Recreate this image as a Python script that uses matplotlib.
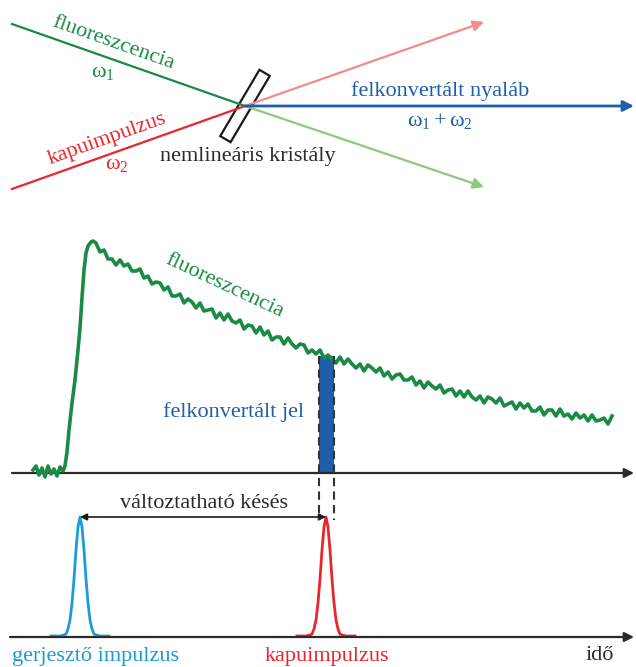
import numpy as np
import matplotlib.pyplot as plt
from matplotlib.patches import Rectangle

# colours
GREEN = '#1a8a45'
GREEN_LIGHT = '#8cca7c'
RED = '#e8262d'
RED_LIGHT = '#f08c8c'
BLUE = '#1f5eab'
CYAN = '#1b9bd7'
DARK = '#2b2b2b'

plt.rcParams['font.family'] = ['Liberation Serif', 'DejaVu Serif']
plt.rcParams['mathtext.fontset'] = 'custom'
plt.rcParams['mathtext.rm'] = 'Liberation Serif'
plt.rcParams['mathtext.it'] = 'Liberation Serif:italic'

FS = 16

# --- beam geometry (drawing units = pixels, y pointing down) ---
crystal_xy = (245, 106)
crystal_len, crystal_thick, crystal_angle = 77, 12, -59.4
fluor_in = (12, 24)
gate_in = (12, 189)
gate_out = (484, 22)
fluor_out = (484, 187)
sum_out = (634, 106)

# --- fluorescence trace: time (x) and signal level (y) ---
fluor_t = [33, 36, 39, 42, 45, 48, 51, 54, 57, 60, 63, 65, 67, 69, 72, 75, 78, 80, 82,
           84, 86, 88, 91, 93,
           96, 100, 104, 108, 112, 116, 120, 124, 128, 132, 136, 140, 144, 148, 152,
           156, 160, 164, 168, 172, 176, 180, 184, 188, 192, 196, 200, 204, 208, 212,
           216, 220, 224, 228, 232, 236, 240, 244, 248, 252, 256, 260, 264, 268, 272,
           276, 280, 284, 288, 292, 296, 300, 304, 308, 312, 316, 320, 324, 328, 332,
           336, 340, 344, 348, 352, 356, 360, 364, 368, 372, 376, 380, 384, 388, 392,
           396, 400, 404, 408, 412, 416, 420, 424, 428, 432, 436, 440, 444, 448, 452,
           456, 460, 464, 468, 472, 476, 480, 484, 488, 492, 496, 500, 504, 508, 512,
           516, 520, 524, 528, 532, 536, 540, 544, 548, 552, 556, 560, 564, 568, 572,
           576, 580, 584, 588, 592, 596, 600, 604, 608, 612]
fluor_y = [470, 466, 475, 468, 477, 466, 474, 469, 476, 467, 471, 466, 452, 430, 403,
           380, 350, 328, 298, 270, 253, 246, 242, 241,
           243, 252, 250, 259, 259, 265, 260, 266, 264, 271, 271, 269, 278, 276, 284,
           282, 283, 290, 287, 296, 296, 294, 303, 299, 302, 308, 303, 311, 310, 309,
           318, 313, 320, 314, 321, 323, 320, 329, 325, 326, 333, 327, 335, 331, 340,
           337, 337, 344, 338, 344, 348, 344, 345, 353, 350, 354, 350, 358, 355, 359,
           363, 357, 364, 359, 364, 368, 364, 371, 365, 368, 372, 368, 376, 372, 379,
           375, 374, 380, 380, 377, 385, 381, 388, 382, 386, 389, 385, 393, 390, 389,
           396, 391, 397, 391, 397, 400, 396, 403, 397, 399, 403, 398, 406, 404, 402,
           409, 403, 408, 404, 411, 411, 407, 415, 410, 410, 416, 409, 416, 414, 419,
           413, 418, 415, 421, 415, 421, 420, 418, 424, 416]

fluor_axis_y = 473
pulse_axis_y = 637
axis_x0, axis_x1 = 12, 634

# gate window on the time axis
gate_t0, gate_t1 = 319, 334

# laser pulse shape: time offset from the peak and height above the axis
pulse_dt = [-29, -20, -16, -14, -12, -10, -8, -6, -4, -2, 0,
            2, 4, 6, 8, 10, 12, 14, 16, 20, 29]
pulse_h = [0, 0, 1, 2, 7, 16, 33, 57, 86, 109, 119,
           109, 86, 57, 33, 16, 7, 2, 1, 0, 0]
excite_t = 80
gate_t = 326

fig = plt.figure(figsize=(6.36, 6.67), dpi=100)
ax = fig.add_axes([0, 0, 1, 1])
ax.set_xlim(0, 636)
ax.set_ylim(667, 0)
ax.axis('off')


def arrow(p0, p1, color, lw=1.6, scale=16, style='-|>'):
    ax.annotate('', xy=p1, xytext=p0,
                arrowprops=dict(arrowstyle=style, color=color, lw=lw,
                                mutation_scale=scale, shrinkA=0, shrinkB=0))


# ---------------- beams through the crystal ----------------
arrow(crystal_xy, gate_out, RED_LIGHT)
arrow(crystal_xy, fluor_out, GREEN_LIGHT)
arrow(crystal_xy, sum_out, BLUE, lw=2.0)
ax.plot([fluor_in[0], crystal_xy[0]], [fluor_in[1], crystal_xy[1]], color=GREEN, lw=1.6)
ax.plot([gate_in[0], crystal_xy[0]], [gate_in[1], crystal_xy[1]], color=RED, lw=1.6)

ax.add_patch(Rectangle((crystal_xy[0] - crystal_len / 2, crystal_xy[1] - crystal_thick / 2),
                       crystal_len, crystal_thick, angle=crystal_angle,
                       rotation_point='center', fill=False, ec='#1a1a1a', lw=1.6))

ax.text(113, 43, 'fluoreszcencia', color=GREEN, fontsize=FS, rotation=-19.5,
        ha='center', va='center')
ax.text(103, 72, r'$\mathrm{\omega}_1$', color=GREEN, fontsize=FS, ha='center', va='center')
ax.text(107, 139, 'kapuimpulzus', color=RED, fontsize=FS, rotation=19.6,
        ha='center', va='center')
ax.text(117, 165, r'$\mathrm{\omega}_2$', color=RED, fontsize=FS, ha='center', va='center')
ax.text(248, 157, 'nemlineáris kristály', color=DARK, fontsize=FS,
        ha='center', va='center')
ax.text(440, 91, 'felkonvertált nyaláb', color=BLUE, fontsize=FS,
        ha='center', va='center')
ax.text(440, 121, r'$\mathrm{\omega}_1 + \mathrm{\omega}_2$', color=BLUE, fontsize=FS,
        ha='center', va='center')

# ---------------- fluorescence and gated signal ----------------
arrow((axis_x0, fluor_axis_y), (axis_x1, fluor_axis_y), DARK, lw=1.6, scale=14)

t = np.array(fluor_t)
y = np.array(fluor_y)
gate_top = np.interp([gate_t0, gate_t1], t, y).mean()
ax.fill_between([gate_t0, gate_t1], [gate_top, gate_top], fluor_axis_y,
                color=BLUE, lw=0, zorder=2)
ax.plot(t, y, color=GREEN, lw=2.6, solid_joinstyle='round', zorder=3)

ax.text(224, 286, 'fluoreszcencia', color=GREEN, fontsize=FS, rotation=-25,
        ha='center', va='center')
ax.text(234, 412, 'felkonvertált jel', color=BLUE, fontsize=FS,
        ha='center', va='center')

# dashed edges of the gate window
for gx in (gate_t0, gate_t1):
    ax.plot([gx, gx], [gate_top, 520], color='#333333', lw=1.5,
            dashes=(4, 2.5), zorder=4)

# ---------------- excitation and gate pulses ----------------
arrow((axis_x0 - 2, pulse_axis_y), (axis_x1, pulse_axis_y), DARK, lw=1.6, scale=14)
dt = np.array(pulse_dt)
h = np.array(pulse_h)
ax.plot(excite_t + dt, pulse_axis_y - 1 - h, color=CYAN, lw=2.0)
ax.plot(gate_t + dt, pulse_axis_y - 1 - h, color=RED, lw=2.0)

peak_y = pulse_axis_y - 1 - max(pulse_h)
arrow((gate_t, peak_y), (excite_t, peak_y), '#1a1a1a', lw=1.2, scale=10, style='<|-|>')
ax.text(204, 503, 'változtatható késés', color=DARK, fontsize=FS,
        ha='center', va='center')

ax.text(95, 656, 'gerjesztő impulzus', color=CYAN, fontsize=FS,
        ha='center', va='center')
ax.text(327, 656, 'kapuimpulzus', color=RED, fontsize=FS, ha='center', va='center')
ax.text(600, 656, 'idő', color=DARK, fontsize=FS, ha='center', va='center')

fig.savefig('out.png', dpi=100)
